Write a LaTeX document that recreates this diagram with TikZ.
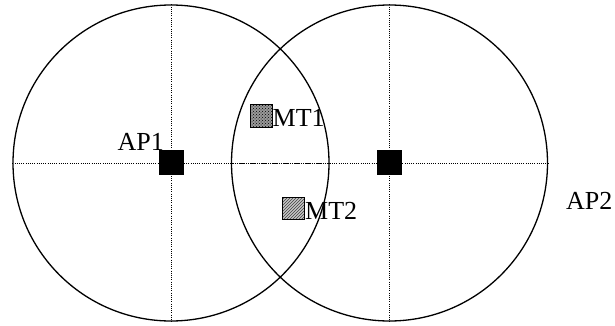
\documentclass[tikz,border=0pt]{standalone}
\usepackage{fontspec}
\setmainfont{Liberation Serif}
\usetikzlibrary{patterns}
\begin{document}
\begin{tikzpicture}[x=1pt,y=-1pt,
  cell/.style={circle,draw,line width=1.3pt,minimum size=316pt,inner sep=0pt},
  axis/.style={line width=1pt,dash pattern=on 1pt off 1.2pt},
  apbox/.style={rectangle,fill=black,minimum size=25pt,inner sep=0pt},
  mtbox/.style={rectangle,draw,line width=1pt,minimum size=22pt,inner sep=0pt},
  lbl/.style={inner sep=0pt,font=\fontsize{26}{26}\selectfont}]
  \useasboundingbox (0,0) rectangle (615,326);
  % coverage cells of the two access points
  \node[cell] (c1) at (171,163) {};
  \node[cell] (c2) at (389.5,163) {};
  % diameters through each cell
  \draw[axis] (c1.west) -- (c1.east);
  \draw[axis] (c1.north) -- (c1.south);
  \draw[axis] (c2.west) -- (c2.east);
  \draw[axis] (c2.north) -- (c2.south);
  % access points
  \node[apbox] (ap1) at (171,162) {};
  \node[apbox] (ap2) at (389.5,162.5) {};
  \node[lbl,anchor=base east] (ap1l) at (164,150) {AP1};
  \node[lbl,anchor=base west] (ap2l) at (566,209) {AP2};
  % mobile terminals
  \node[mtbox,preaction={fill=gray!80},pattern=crosshatch dots,pattern color=black] (mt1) at (261,116) {};
  \node[mtbox,preaction={fill=gray!45},pattern=north east lines,pattern color=black!75] (mt2) at (293.5,208.5) {};
  \node[lbl,anchor=base west] (mt1l) at (272.5,127) {MT1};
  \node[lbl,anchor=base west] (mt2l) at (305,219) {MT2};
\end{tikzpicture}
\end{document}
